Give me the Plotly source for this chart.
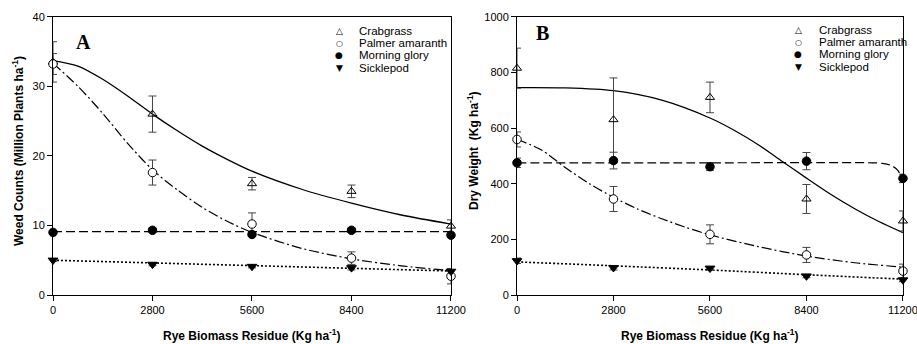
import plotly.graph_objects as go

# ---------------- data ----------------
residue = [0, 2800, 5600, 8400, 11200]
tick_vals = [0, 2800, 5600, 8400, 11200]
tick_text = ["0", "2800", "5600", "8400", "11200"]
species = ["Crabgrass", "Palmer amaranth", "Morning glory", "Sicklepod"]

# Panel A: weed counts (million plants/ha)
a_crab = [33.5, 26.0, 16.0, 14.9, 9.9]
a_crab_err = [2.9, 2.6, 0.9, 0.9, 0.9]
a_palmer = [33.2, 17.6, 10.2, 5.3, 2.7]
a_palmer_err = [1.5, 1.8, 1.6, 0.9, 1.1]
a_morning = [9.0, 9.3, 8.7, 9.3, 8.6]
a_morning_err = [0.3, 0.3, 0.3, 0.3, 0.3]
a_sickle = [5.0, 4.4, 4.1, 3.9, 3.4]
a_sickle_err = [0.2, 0.2, 0.2, 0.3, 0.3]

# Panel A fitted curves
a_crab_fit_x = [0, 700, 1400, 2100, 2800, 3500, 4200, 4900, 5600, 7000, 8400, 9800, 11200]
a_crab_fit = [33.7, 32.9, 31.0, 28.6, 26.0, 23.6, 21.4, 19.5, 17.8, 15.2, 13.2, 11.5, 10.2]
a_palmer_fit_x = [0, 700, 1400, 2100, 2800, 3500, 4200, 4900, 5600, 7000, 8400, 9800, 11200]
a_palmer_fit = [33.3, 30.0, 26.1, 21.8, 18.0, 15.1, 12.6, 10.6, 9.0, 6.7, 5.2, 4.2, 3.5]
a_morning_fit_x = [0, 11200]
a_morning_fit = [9.1, 9.1]
a_sickle_fit_x = [0, 11200]
a_sickle_fit = [5.0, 3.45]

# Panel B: dry weight (kg/ha)
b_crab = [815, 630, 710, 345, 266]
b_crab_err = [72, 150, 55, 52, 36]
b_palmer = [559, 345, 218, 144, 86]
b_palmer_err = [27, 45, 34, 27, 25]
b_morning = [475, 483, 461, 481, 419]
b_morning_err = [17, 30, 13, 31, 15]
b_sickle = [123, 98, 96, 68, 54]
b_sickle_err = [10, 8, 7, 6, 6]

# Panel B fitted curves
b_crab_fit_x = [0, 1400, 2800, 4200, 5600, 6300, 7000, 7700, 8400, 9100, 9800, 10500, 11200]
b_crab_fit = [745, 744, 734, 700, 636, 592, 540, 480, 420, 362, 310, 264, 224]
b_palmer_fit_x = [0, 700, 1400, 2100, 2800, 3500, 4200, 4900, 5600, 7000, 8400, 9800, 11200]
b_palmer_fit = [559, 522, 458, 400, 351, 309, 274, 243, 216, 174, 140, 116, 100]
b_morning_fit_x = [0, 5600, 10300, 10600, 10850, 11050, 11200]
b_morning_fit = [475, 475, 475, 473, 466, 448, 408]
b_sickle_fit_x = [0, 2800, 5600, 8400, 11200]
b_sickle_fit = [119, 105, 90, 73, 57]

# ---------------- styles ----------------
FONT = "Liberation Sans, Arial, sans-serif"
ERR_COLOR = "#444444"
marker_styles = {
    "Crabgrass": dict(symbol="triangle-up-open", size=8, color="black", line=dict(width=1, color="black")),
    "Palmer amaranth": dict(symbol="circle", size=8.5, color="white", line=dict(width=1, color="black")),
    "Morning glory": dict(symbol="circle", size=8.5, color="black", line=dict(width=1, color="black")),
    "Sicklepod": dict(symbol="triangle-down", size=8.5, color="black", line=dict(width=1, color="black")),
}
line_styles = {
    "Crabgrass": dict(color="black", width=1.3, dash="solid"),
    "Palmer amaranth": dict(color="black", width=1.2, dash="10px,3px,2px,3px"),
    "Morning glory": dict(color="black", width=1.2, dash="9px,4px"),
    "Sicklepod": dict(color="black", width=1.6, dash="2px,2px"),
}
legend_glyph = {"Crabgrass": "△", "Palmer amaranth": "○", "Morning glory": "●", "Sicklepod": "▼"}

fig = go.Figure()

panels = [
    dict(xa="x", ya="y",
         pts=[a_crab, a_palmer, a_morning, a_sickle],
         errs=[a_crab_err, a_palmer_err, a_morning_err, a_sickle_err],
         fits=[(a_crab_fit_x, a_crab_fit), (a_palmer_fit_x, a_palmer_fit),
               (a_morning_fit_x, a_morning_fit), (a_sickle_fit_x, a_sickle_fit)]),
    dict(xa="x2", ya="y2",
         pts=[b_crab, b_palmer, b_morning, b_sickle],
         errs=[b_crab_err, b_palmer_err, b_morning_err, b_sickle_err],
         fits=[(b_crab_fit_x, b_crab_fit), (b_palmer_fit_x, b_palmer_fit),
               (b_morning_fit_x, b_morning_fit), (b_sickle_fit_x, b_sickle_fit)]),
]

for p in panels:
    for name, (fx, fy) in zip(species, p["fits"]):
        fig.add_trace(go.Scatter(x=fx, y=fy, mode="lines",
                                 line=dict(shape="spline", smoothing=0.8, **line_styles[name]),
                                 xaxis=p["xa"], yaxis=p["ya"], showlegend=False, hoverinfo="skip",
                                 cliponaxis=False))
    for name, y, e in zip(species, p["pts"], p["errs"]):
        fig.add_trace(go.Scatter(x=residue, y=y, mode="markers", name=name, marker=marker_styles[name],
                                 error_y=dict(type="data", array=e, visible=True, color=ERR_COLOR,
                                              thickness=1, width=4),
                                 xaxis=p["xa"], yaxis=p["ya"], showlegend=False, cliponaxis=False))

ydom = [0.1424, 0.9515]
axis_common = dict(showline=True, linecolor="black", linewidth=1, mirror=True, ticks="outside", ticklen=5,
                   tickcolor="black", showgrid=False, zeroline=False, automargin=False,
                   ticklabeloverflow="allow",
                   tickfont=dict(family=FONT, size=11, color="black"))

fig.update_layout(
    width=917, height=344, margin=dict(l=0, r=0, t=0, b=0, autoexpand=False),
    paper_bgcolor="white", plot_bgcolor="white", showlegend=False,
    xaxis=dict(domain=[0.0578, 0.4918], range=[0, 11200], tickvals=tick_vals, ticktext=tick_text, anchor="y",
               **axis_common),
    yaxis=dict(domain=ydom, range=[0, 40], tickvals=[0, 10, 20, 30, 40], anchor="x", **axis_common),
    xaxis2=dict(domain=[0.5638, 0.9847], range=[0, 11200], tickvals=tick_vals, ticktext=tick_text, anchor="y2",
                **axis_common),
    yaxis2=dict(domain=ydom, range=[0, 1000], tickvals=[0, 200, 400, 600, 800, 1000], anchor="x2",
                **axis_common),
)

ann = []
title_font = dict(family=FONT, size=12, color="black")
for cx in [252 / 917, 710 / 917]:
    ann.append(dict(text="<b>Rye Biomass Residue (Kg ha<sup>-1</sup>)</b>", x=cx, y=1 - 335 / 344, xref="paper",
                    yref="paper", showarrow=False, font=title_font, xanchor="center", yanchor="middle"))
ann.append(dict(text="<b>Weed Counts (Million Plants ha<sup>-1</sup>)</b>", x=18 / 917, y=1 - 151 / 344,
                xref="paper", yref="paper", showarrow=False, font=title_font, textangle=-90,
                xanchor="center", yanchor="middle"))
ann.append(dict(text="<b>Dry Weight  (Kg ha<sup>-1</sup>)</b>", x=473 / 917, y=1 - 151 / 344,
                xref="paper", yref="paper", showarrow=False, font=title_font, textangle=-90,
                xanchor="center", yanchor="middle"))
ann.append(dict(text="<b>A</b>", x=83 / 917, y=1 - 42 / 344, xref="paper", yref="paper", showarrow=False,
                font=dict(family="Liberation Serif, Times New Roman, serif", size=20, color="black"),
                xanchor="center", yanchor="middle"))
ann.append(dict(text="<b>B</b>", x=542 / 917, y=1 - 33 / 344, xref="paper", yref="paper", showarrow=False,
                font=dict(family="Liberation Serif, Times New Roman, serif", size=20, color="black"),
                xanchor="center", yanchor="middle"))
for sym_x, txt_x, y0 in [(339, 357, 31), (798, 817, 30)]:
    for i, name in enumerate(species):
        yy = 1 - (y0 + 12.2 * i) / 344
        ann.append(dict(text=legend_glyph[name], x=sym_x / 917, y=yy, xref="paper", yref="paper", showarrow=False,
                        font=dict(family="DejaVu Sans", size=9 if name != "Palmer amaranth" else 8,
                                  color="black"),
                        xanchor="center", yanchor="middle"))
        ann.append(dict(text=name, x=txt_x / 917, y=yy, xref="paper", yref="paper", showarrow=False,
                        font=dict(family=FONT, size=11.5, color="black"), xanchor="left", yanchor="middle"))
fig.update_layout(annotations=ann)

fig.write_html("out.html", config={"displayModeBar": False},
               post_script="document.body.style.margin='0';document.body.style.padding='0';"
                           "document.body.style.overflow='hidden';")
